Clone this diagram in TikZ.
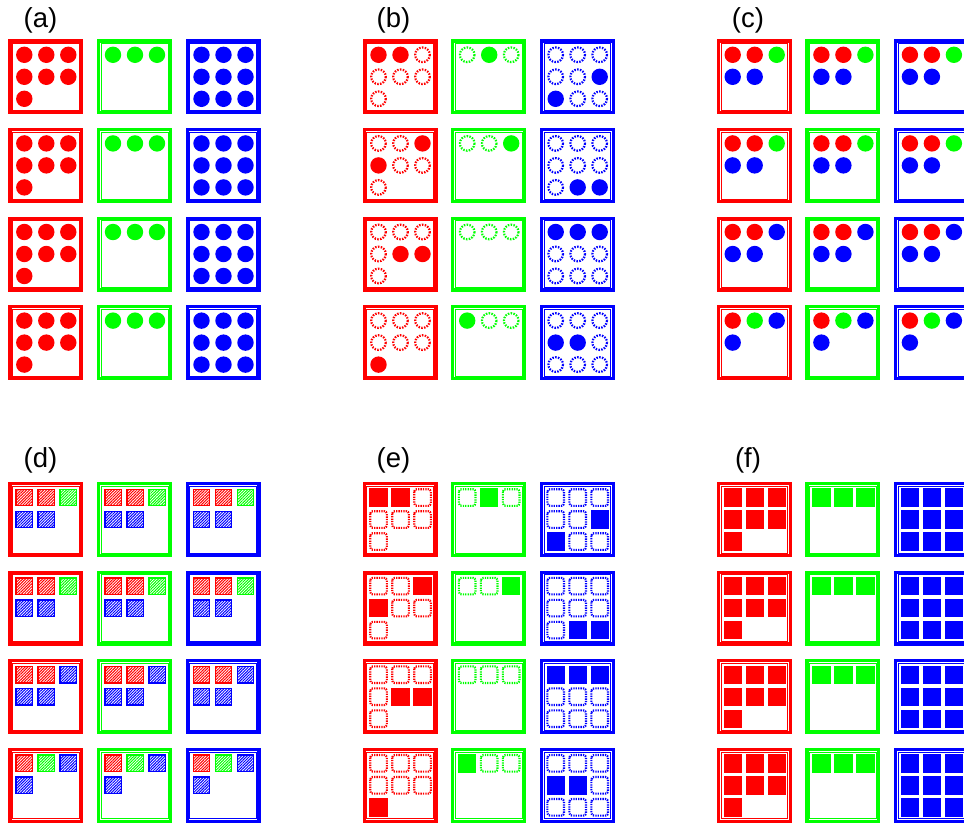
\documentclass[tikz,border=0pt]{standalone}
\usepackage{fontspec}
\setmainfont{Liberation Sans}
\usetikzlibrary{patterns.meta}
\definecolor{red}{RGB}{255,0,0}
\definecolor{green}{RGB}{0,255,0}
\definecolor{blue}{RGB}{0,0,255}
\def\FF{F}
\tikzset{
  outerline/.style={line width=3.2},
  innerline/.style={line width=0.6},
  dotring/.style={line width=2.2, dash pattern=on 1.5 off 1.3},
  dotsq/.style={line width=2.1, dash pattern=on 1.3 off 1.1, rounded corners=2.5},
  hatchsq/.style={line width=1.4, pattern={Lines[angle=45,distance=2pt,line width=1pt]}},
  lab/.style={font=\fontsize{27.5}{31}\selectfont, inner sep=0pt}
}
% item drawers: #1 colour, #2 kind (F filled / D dotted), #3 x, #4 y
\newcommand\circitem[4]{\edef\tmpk{#2}\ifx\tmpk\FF
  \fill[#1] (#3,#4) circle[radius=8.2];\else
  \draw[#1,dotring] (#3,#4) circle[radius=7.3];\fi}
\newcommand\sqitem[4]{\edef\tmpk{#2}\ifx\tmpk\FF
  \fill[#1] (#3-9.2,#4-9.2) rectangle (#3+9.2,#4+9.2);\else
  \draw[#1,dotsq] (#3-8.3,#4-8.3) rectangle (#3+8.3,#4+8.3);\fi}
\newcommand\hatchitem[4]{%
  \draw[#1,hatchsq,pattern color=#1] (#3-8.2,#4-8.2) rectangle (#3+8.2,#4+8.2);}
% cell: #1 X, #2 Y, #3 box colour, #4 drawer, #5 list colour/kind
\newcommand\cell[5]{%
  \draw[outerline,#3] (#1+1.6,#2+1.6) rectangle (#1+73.4,#2+73.4);
  \draw[innerline,#3] (#1+4.1,#2+4.1) rectangle (#1+70.9,#2+70.9);
  \edef\itemlist{#5}%
  \foreach \c/\s [count=\k from 0] in \itemlist {
    \pgfmathsetmacro\ix{#1+16+22*mod(\k,3)}
    \pgfmathsetmacro\iy{#2+15.5+22*floor(\k/3)}
    #4{\c}{\s}{\ix}{\iy}
  }}
% a full row of a panel: #1 panel X, #2 Y, #3 drawer, #4 red list, #5 green list, #6 blue list
\newcommand\prow[6]{%
  \cell{#1}{#2}{red}{#3}{#4}%
  \cell{#1+88.7}{#2}{green}{#3}{#5}%
  \cell{#1+177.2}{#2}{blue}{#3}{#6}}
% lists
\def\Rall{red/F,red/F,red/F,red/F,red/F,red/F,red/F}
\def\Gall{green/F,green/F,green/F}
\def\Ball{blue/F,blue/F,blue/F,blue/F,blue/F,blue/F,blue/F,blue/F,blue/F}
\def\RbA{red/F,red/F,red/D,red/D,red/D,red/D,red/D}
\def\GbA{green/D,green/F,green/D}
\def\BbA{blue/D,blue/D,blue/D,blue/D,blue/D,blue/F,blue/F,blue/D,blue/D}
\def\RbB{red/D,red/D,red/F,red/F,red/D,red/D,red/D}
\def\GbB{green/D,green/D,green/F}
\def\BbB{blue/D,blue/D,blue/D,blue/D,blue/D,blue/D,blue/D,blue/F,blue/F}
\def\RbC{red/D,red/D,red/D,red/D,red/F,red/F,red/D}
\def\GbC{green/D,green/D,green/D}
\def\BbC{blue/F,blue/F,blue/F,blue/D,blue/D,blue/D,blue/D,blue/D,blue/D}
\def\RbD{red/D,red/D,red/D,red/D,red/D,red/D,red/F}
\def\GbD{green/F,green/D,green/D}
\def\BbD{blue/D,blue/D,blue/D,blue/F,blue/F,blue/D,blue/D,blue/D,blue/D}
\def\MixA{red/F,red/F,green/F,blue/F,blue/F}
\def\MixC{red/F,red/F,blue/F,blue/F,blue/F}
\def\MixD{red/F,green/F,blue/F,blue/F}
\begin{document}
\begin{tikzpicture}[x=1pt,y=-1pt]
\useasboundingbox (0,0) rectangle (964,825);
\clip (0,0) rectangle (964,825);
\fill[white] (0,0) rectangle (964,825);
% labels
\node[lab] (la) at (40.5,20) {(a)};
\node[lab] (lb) at (393.5,20) {(b)};
\node[lab] (lc) at (748,20) {(c)};
\node[lab] (ld) at (40.5,460) {(d)};
\node[lab] (le) at (393.5,460) {(e)};
\node[lab] (lf) at (748,460) {(f)};
% (a)
\foreach \r in {0,...,3}{
  \pgfmathsetmacro\yy{39.3+88.6*\r}
  \prow{8.3}{\yy}{\circitem}{\Rall}{\Gall}{\Ball}
}
% (b)
\prow{362.5}{39.3}{\circitem}{\RbA}{\GbA}{\BbA}
\prow{362.5}{127.9}{\circitem}{\RbB}{\GbB}{\BbB}
\prow{362.5}{216.5}{\circitem}{\RbC}{\GbC}{\BbC}
\prow{362.5}{305.1}{\circitem}{\RbD}{\GbD}{\BbD}
% (c)
\prow{716.7}{39.3}{\circitem}{\MixA}{\MixA}{\MixA}
\prow{716.7}{127.9}{\circitem}{\MixA}{\MixA}{\MixA}
\prow{716.7}{216.5}{\circitem}{\MixC}{\MixC}{\MixC}
\prow{716.7}{305.1}{\circitem}{\MixD}{\MixD}{\MixD}
% (d)
\prow{8.3}{482}{\hatchitem}{\MixA}{\MixA}{\MixA}
\prow{8.3}{570.6}{\hatchitem}{\MixA}{\MixA}{\MixA}
\prow{8.3}{659.2}{\hatchitem}{\MixC}{\MixC}{\MixC}
\prow{8.3}{747.8}{\hatchitem}{\MixD}{\MixD}{\MixD}
% (e)
\prow{362.5}{482}{\sqitem}{\RbA}{\GbA}{\BbA}
\prow{362.5}{570.6}{\sqitem}{\RbB}{\GbB}{\BbB}
\prow{362.5}{659.2}{\sqitem}{\RbC}{\GbC}{\BbC}
\prow{362.5}{747.8}{\sqitem}{\RbD}{\GbD}{\BbD}
% (f)
\foreach \r in {0,...,3}{
  \pgfmathsetmacro\yy{482+88.6*\r}
  \prow{716.7}{\yy}{\sqitem}{\Rall}{\Gall}{\Ball}
}
\end{tikzpicture}
\end{document}
